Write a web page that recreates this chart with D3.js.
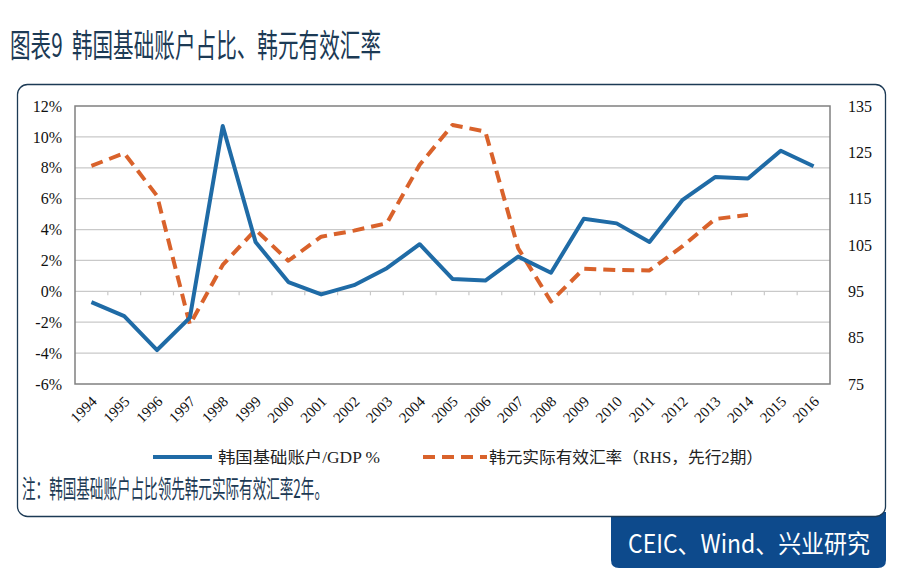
<!DOCTYPE html>
<html><head><meta charset="utf-8">
<script src="https://cdn.jsdelivr.net/npm/d3@7"></script>
<style>
html,body{margin:0;padding:0;background:#fff;}
svg{display:block;}
</style></head>
<body>
<svg id="chart" width="905" height="581"></svg>
<script>
const years = ["1994","1995","1996","1997","1998","1999","2000","2001","2002","2003","2004","2005","2006","2007","2008","2009","2010","2011","2012","2013","2014","2015","2016"];
const basicAccount = [-0.7,-1.6,-3.8,-1.7,10.7,3.2,0.6,-0.2,0.4,1.5,3.05,0.8,0.7,2.25,1.2,4.7,4.4,3.2,5.9,7.4,7.3,9.1,8.1];
const reer = [122.1,124.8,115.6,87.8,100.7,108.3,101.6,106.8,108.1,109.7,122.3,130.9,129.5,104.3,92.8,99.9,99.6,99.5,104.7,110.6,111.5,null,null];
const leftTicks = [-6,-4,-2,0,2,4,6,8,10,12];
const rightTicks = [75,85,95,105,115,125,135];
const titleText = "图表9\u00A0\u00A0韩国基础账户占比、韩元有效汇率";
const noteText = "注：韩国基础账户占比领先韩元实际有效汇率2年。";
const sourceText = "CEIC、Wind、兴业研究";
const legendLabels = ["韩国基础账户/GDP %","韩元实际有效汇率（RHS，先行2期）"];

const svg = d3.select("#chart");
const navy = "#1c3a55";
const blue = "#1f6ba6";
const orange = "#d9622b";
const serif = "'Liberation Serif','Times New Roman','Noto Sans CJK SC',serif";
const cjk = "'Noto Sans CJK SC','Noto Sans',sans-serif";

// Title
svg.append("text").attr("x",10).attr("y",57)
  .attr("font-family",cjk).attr("font-size",32).attr("fill",navy)
  .attr("textLength",371).attr("lengthAdjust","spacingAndGlyphs")
  .text(titleText);

// Source box
svg.append("path")
  .attr("d","M611,512 L886,512 L886,560 Q886,568 878,568 L619,568 Q611,568 611,560 Z")
  .attr("fill","#0d4a8c");
svg.append("text").attr("x",628).attr("y",553)
  .attr("font-family",cjk).attr("font-size",25).attr("fill","#fff")
  .attr("textLength",242).attr("lengthAdjust","spacingAndGlyphs")
  .text(sourceText);

// Card
svg.append("rect").attr("x",17.5).attr("y",84.5).attr("width",868).attr("height",432)
  .attr("rx",10).attr("ry",10).attr("fill","#fff").attr("stroke",navy).attr("stroke-width",1.3);

// Note
svg.append("text").attr("x",22).attr("y",498)
  .attr("font-family",cjk).attr("font-size",25).attr("fill",navy)
  .attr("textLength",306).attr("lengthAdjust","spacingAndGlyphs")
  .text(noteText);

// Scales
const L = 75, R = 830, T = 106, B = 384;
const x = d3.scaleBand().domain(years).range([L,R]).padding(0);
const cx = d => x(d) + x.bandwidth()/2;
const yL = d3.scaleLinear().domain([-6,12]).range([B,T]);
const yR = d3.scaleLinear().domain([75,135]).range([B,T]);

// Gridlines
svg.append("g").selectAll("line").data(leftTicks.filter(t=>t!==-6 && t!==12)).join("line")
  .attr("x1",L).attr("x2",R).attr("y1",d=>yL(d)).attr("y2",d=>yL(d))
  .attr("stroke","#c9c9c9").attr("stroke-width",1.2);

// Category ticks on zero line
svg.append("g").selectAll("line").data(years.slice(1)).join("line")
  .attr("x1",d=>x(d)).attr("x2",d=>x(d)).attr("y1",yL(0)).attr("y2",yL(0)+4)
  .attr("stroke","#c9c9c9").attr("stroke-width",1.2);

// Frame
svg.append("rect").attr("x",L).attr("y",T).attr("width",R-L).attr("height",B-T)
  .attr("fill","none").attr("stroke","#808080").attr("stroke-width",1.5);

// Left axis
const gL = svg.append("g").attr("transform",`translate(${L},0)`)
  .call(d3.axisLeft(yL).tickValues(leftTicks).tickSize(0).tickPadding(13).tickFormat(d=>d+"%"));
gL.select(".domain").remove();
gL.selectAll("text").attr("font-family",serif).attr("font-size",16).attr("fill","#111");

// Right axis
const gR = svg.append("g").attr("transform",`translate(${R},0)`)
  .call(d3.axisRight(yR).tickValues(rightTicks).tickSize(0).tickPadding(18));
gR.select(".domain").remove();
gR.selectAll("text").attr("font-family",serif).attr("font-size",16).attr("fill","#111");

// X labels
svg.append("g").selectAll("text").data(years).join("text")
  .attr("transform",d=>`translate(${cx(d)-1},${B+11}) rotate(-45)`)
  .attr("text-anchor","end").attr("dy","0.7em")
  .attr("font-family",serif).attr("font-size",15).attr("fill","#111")
  .text(d=>d);

// Lines
const lineL = d3.line().x((d,i)=>cx(years[i])).y(d=>yL(d));
const lineR = d3.line().defined(d=>d!==null).x((d,i)=>cx(years[i])).y(d=>yR(d));

svg.append("path").datum(reer).attr("d",lineR)
  .attr("fill","none").attr("stroke",orange).attr("stroke-width",4)
  .attr("stroke-dasharray","12,7").attr("stroke-linejoin","round");
svg.append("path").datum(basicAccount).attr("d",lineL)
  .attr("fill","none").attr("stroke",blue).attr("stroke-width",4)
  .attr("stroke-linejoin","round");

// Legend
const lg = svg.append("g");
lg.append("line").attr("x1",153).attr("x2",212).attr("y1",457).attr("y2",457)
  .attr("stroke",blue).attr("stroke-width",4);
lg.append("text").attr("x",218).attr("y",463)
  .attr("font-family",serif).attr("font-size",16).attr("fill","#222")
  .attr("textLength",162).attr("lengthAdjust","spacingAndGlyphs")
  .text(legendLabels[0]);
lg.append("line").attr("x1",423).attr("x2",487).attr("y1",457).attr("y2",457)
  .attr("stroke",orange).attr("stroke-width",4).attr("stroke-dasharray","12,7");
lg.append("text").attr("x",489).attr("y",463)
  .attr("font-family",serif).attr("font-size",16).attr("fill","#222")
  .attr("textLength",274).attr("lengthAdjust","spacingAndGlyphs")
  .text(legendLabels[1]);
</script>
</body></html>
